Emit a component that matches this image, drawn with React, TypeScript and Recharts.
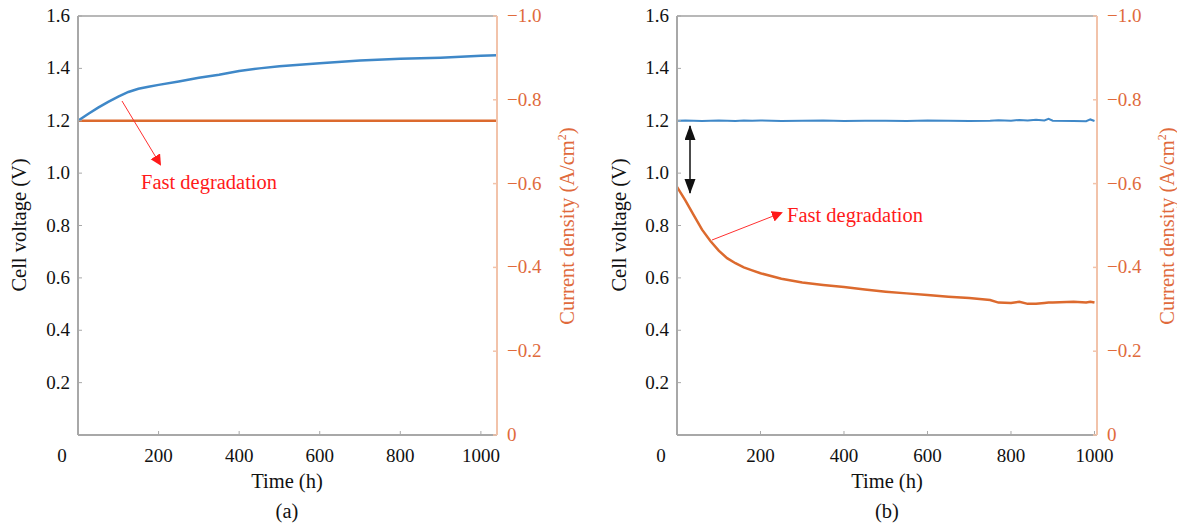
import React from 'react';
import { LineChart, Line, XAxis, YAxis, ReferenceLine } from 'recharts';

// ---------- data ----------
const timeA = [0, 25, 50, 75, 100, 125, 150, 175, 200, 250, 300, 350, 400, 450, 500, 550, 600, 700, 800, 900, 1000, 1040];
const voltageA = [1.2, 1.226, 1.25, 1.272, 1.292, 1.31, 1.322, 1.33, 1.337, 1.35, 1.364, 1.376, 1.39, 1.4, 1.408, 1.414, 1.42, 1.43, 1.437, 1.441, 1.448, 1.45];
const currentA = [-0.75, -0.75, -0.75, -0.75, -0.75, -0.75, -0.75, -0.75, -0.75, -0.75, -0.75, -0.75, -0.75, -0.75, -0.75, -0.75, -0.75, -0.75, -0.75, -0.75, -0.75, -0.75];

const timeB = [0, 20, 40, 60, 80, 100, 120, 140, 160, 180, 200, 250, 300, 350, 400, 450, 500, 550, 600, 650, 700, 750, 770, 800, 820, 840, 860, 880, 890, 900, 950, 980, 990, 1000];
const voltageB = [1.2, 1.201, 1.2, 1.199, 1.2, 1.201, 1.2, 1.199, 1.201, 1.2, 1.201, 1.199, 1.2, 1.201, 1.199, 1.2, 1.2, 1.199, 1.201, 1.2, 1.199, 1.2, 1.202, 1.2, 1.203, 1.201, 1.204, 1.201, 1.207, 1.2, 1.199, 1.198, 1.205, 1.199];
const currentB = [-0.592, -0.56, -0.525, -0.49, -0.463, -0.44, -0.422, -0.41, -0.4, -0.393, -0.386, -0.373, -0.364, -0.358, -0.353, -0.347, -0.342, -0.338, -0.334, -0.33, -0.327, -0.322, -0.316, -0.315, -0.318, -0.313, -0.313, -0.315, -0.316, -0.316, -0.318, -0.316, -0.318, -0.316];

const timeTicks = [0, 200, 400, 600, 800, 1000];
const voltageTicks = [0.2, 0.4, 0.6, 0.8, 1.0, 1.2, 1.4, 1.6];
const currentTicks = [0, -0.2, -0.4, -0.6, -0.8, -1.0];

const dataA = timeA.map((t, i) => ({ t, v: voltageA[i], j: currentA[i] }));
const dataB = timeB.map((t, i) => ({ t, v: voltageB[i], j: currentB[i] }));

// ---------- styles ----------
const FONT = "'Liberation Serif', 'Times New Roman', 'DejaVu Serif', serif";
const BLUE = '#3f88c8';
const ORANGE = '#dc6a2e';
const ORANGE_TEXT = '#e06a3c';
const ORANGE_AXIS = '#f2c3aa';
const GRAY = '#a8a8a8';
const FS = 19;
const TITLE = 20.5;
const ts = (size: number = FS): React.CSSProperties => ({ fontFamily: FONT, fontSize: size });

const LeftTick = (props: any) => {
  const { x, y, payload } = props;
  return (
    <g>
      <line x1={x + 8} x2={x + 12} y1={y} y2={y} stroke={GRAY} strokeWidth={1} />
      <text x={x} y={y} dy={6} textAnchor="end" style={ts()} fill="#111">
        {Number(payload.value).toFixed(1)}
      </text>
    </g>
  );
};

const RightTick = (props: any) => {
  const { x, y, payload } = props;
  const v = Number(payload.value);
  const label = v === 0 ? '0' : '\u2212' + Math.abs(v).toFixed(1);
  return (
    <g>
      <line x1={x - 10} x2={x - 14} y1={y} y2={y} stroke={ORANGE_AXIS} strokeWidth={1.5} />
      <text x={x} y={y} dy={6} textAnchor="start" style={ts()} fill={ORANGE_TEXT}>
        {label}
      </text>
    </g>
  );
};

const BottomTick = (props: any) => {
  const { x, y, payload } = props;
  const v = Number(payload.value);
  return (
    <g>
      {v !== 0 && <line x1={x} x2={x} y1={y - 27} y2={y - 31} stroke={GRAY} strokeWidth={1} />}
      <text x={v === 0 ? x - 16 : x} y={y} textAnchor="middle" style={ts()} fill="#111">
        {String(v)}
      </text>
    </g>
  );
};

function Panel({ data, xMax, leftW, rightW, width, blueW }: any) {
  return (
    <LineChart width={width} height={523} data={data} margin={{ top: 16, right: 0, bottom: 58, left: 0 }}>
      <XAxis
        dataKey="t"
        type="number"
        domain={[0, xMax]}
        ticks={timeTicks}
        allowDataOverflow
        height={30}
        tickSize={0}
        tickMargin={27}
        tick={<BottomTick />}
        axisLine={{ stroke: GRAY, strokeWidth: 2 }}
        tickLine={false}
        interval={0}
      />
      <YAxis
        yAxisId="v"
        domain={[0, 1.6]}
        ticks={voltageTicks}
        width={leftW}
        tickSize={0}
        tickMargin={8}
        tick={<LeftTick />}
        axisLine={{ stroke: GRAY, strokeWidth: 2 }}
        tickLine={false}
        interval={0}
        allowDataOverflow
      />
      <YAxis
        yAxisId="j"
        orientation="right"
        domain={[-1, 0]}
        reversed
        ticks={currentTicks}
        width={rightW}
        tickSize={0}
        tickMargin={10}
        tick={<RightTick />}
        axisLine={{ stroke: ORANGE_AXIS, strokeWidth: 2 }}
        tickLine={false}
        interval={0}
        allowDataOverflow
      />
      <ReferenceLine yAxisId="v" y={1.6} stroke="#b8b8b8" strokeWidth={2} ifOverflow="extendDomain" />
      <Line yAxisId="j" dataKey="j" stroke={ORANGE} strokeWidth={2.5} dot={false} isAnimationActive={false} />
      <Line yAxisId="v" dataKey="v" stroke={BLUE} strokeWidth={blueW} dot={false} isAnimationActive={false} />
    </LineChart>
  );
}

export default function App() {
  return (
    <div style={{ position: 'fixed', left: 0, top: 0, width: 1177, height: 523, background: '#fff', overflow: 'hidden', fontFamily: FONT }}>
      <div style={{ position: 'absolute', left: 0, top: 0 }}>
        <Panel data={dataA} xMax={1040} leftW={78} rightW={103} width={600} blueW={2.5} />
      </div>
      <div style={{ position: 'absolute', left: 600, top: 0 }}>
        <Panel data={dataB} xMax={1006} leftW={77} rightW={80} width={577} blueW={2} />
      </div>
      <svg width={1177} height={523} style={{ position: 'absolute', left: 0, top: 0, pointerEvents: 'none' }}>
        <defs>
          <marker id="redHead" markerWidth="12" markerHeight="12" refX="9" refY="5.5" orient="auto" markerUnits="userSpaceOnUse">
            <path d="M0,0 L11,5.5 L0,11 z" fill="#ff1a1a" />
          </marker>
          <marker id="blackHead" markerWidth="16" markerHeight="12" refX="14" refY="5.5" orient="auto" markerUnits="userSpaceOnUse">
            <path d="M0,0 L15,5.5 L0,11 z" fill="#111" />
          </marker>
        </defs>
        {/* axis titles panel a */}
        <text x={26} y={225} transform="rotate(-90 26 225)" textAnchor="middle" style={ts(TITLE)} fill="#111">Cell voltage (V)</text>
        <text x={574} y={226} transform="rotate(-90 574 226)" textAnchor="middle" style={ts(TITLE)} fill={ORANGE_TEXT}>
          Current density (A/cm<tspan dy={-8} style={ts(12)}>2</tspan><tspan dy={8}>)</tspan>
        </text>
        <text x={287} y={488} textAnchor="middle" style={ts(TITLE)} fill="#111">Time (h)</text>
        <text x={287} y={518} textAnchor="middle" style={ts(TITLE)} fill="#111">(a)</text>
        {/* axis titles panel b */}
        <text x={626} y={225} transform="rotate(-90 626 225)" textAnchor="middle" style={ts(TITLE)} fill="#111">Cell voltage (V)</text>
        <text x={1174} y={226} transform="rotate(-90 1174 226)" textAnchor="middle" style={ts(TITLE)} fill={ORANGE_TEXT}>
          Current density (A/cm<tspan dy={-8} style={ts(12)}>2</tspan><tspan dy={8}>)</tspan>
        </text>
        <text x={887} y={488} textAnchor="middle" style={ts(TITLE)} fill="#111">Time (h)</text>
        <text x={887} y={518} textAnchor="middle" style={ts(TITLE)} fill="#111">(b)</text>
        {/* annotations a */}
        <line x1={122} y1={101} x2={160} y2={164} stroke="#ff3030" strokeWidth={1} markerEnd="url(#redHead)" />
        <text x={141} y={189} style={ts(20.5)} fill="#ff1a1a">Fast degradation</text>
        {/* annotations b */}
        <line x1={712} y1={240} x2={781} y2={213} stroke="#ff3030" strokeWidth={1} markerEnd="url(#redHead)" />
        <text x={787} y={222} style={ts(20.5)} fill="#ff1a1a">Fast degradation</text>
        <line x1={690} y1={150} x2={690} y2={126} stroke="#111" strokeWidth={1.5} markerEnd="url(#blackHead)" />
        <line x1={690} y1={150} x2={690} y2={193} stroke="#111" strokeWidth={1.5} markerEnd="url(#blackHead)" />
      </svg>
    </div>
  );
}
